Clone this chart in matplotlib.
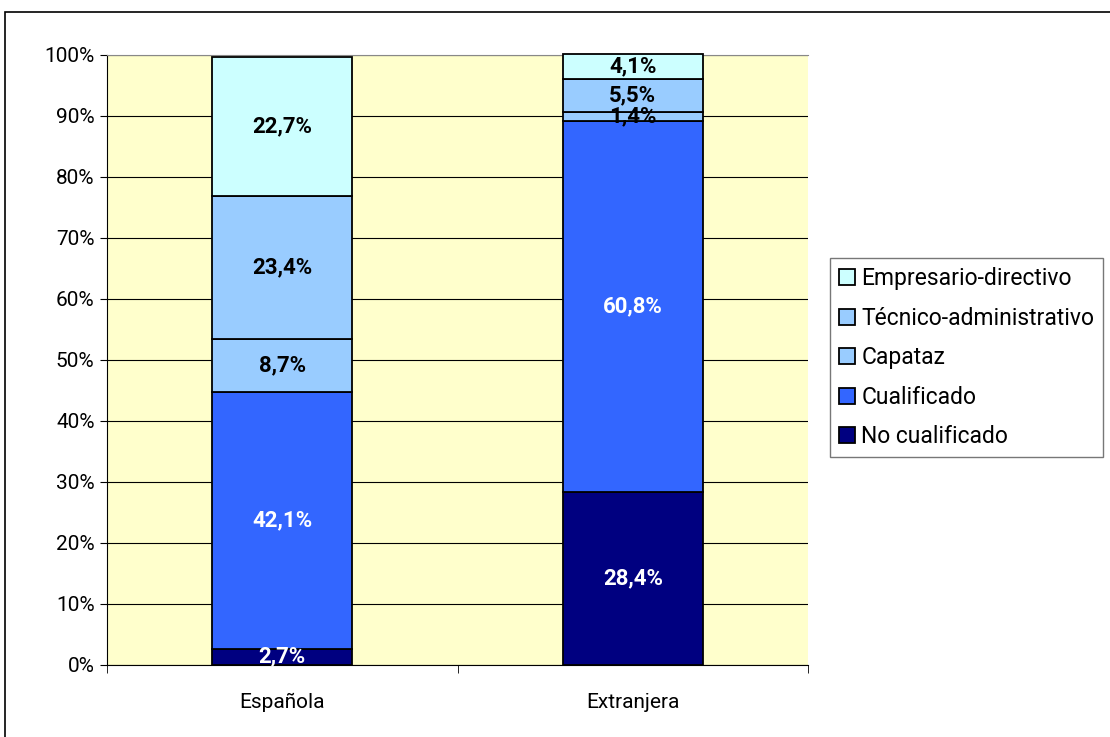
import numpy as np
import matplotlib.pyplot as plt
from matplotlib.patches import Rectangle

categories = ['Española', 'Extranjera']
series = ['No cualificado', 'Cualificado', 'Capataz',
          'Técnico-administrativo', 'Empresario-directivo']
values = {
    'No cualificado': [2.7, 28.4],
    'Cualificado': [42.1, 60.8],
    'Capataz': [8.7, 1.4],
    'Técnico-administrativo': [23.4, 5.5],
    'Empresario-directivo': [22.7, 4.1],
}
colors = ['#000080', '#3366FF', '#99CCFF', '#99CCFF', '#CCFFFF']
text_colors = ['white', 'white', 'black', 'black', 'black']

plt.rcParams['font.family'] = ['Roboto', 'DejaVu Sans']

fig = plt.figure(figsize=(11.1, 7.37), dpi=100)
ax = fig.add_axes([0.0964, 0.0977, 0.6316, 0.8277])
ax.set_facecolor('#FFFFCC')

x = np.arange(len(categories))
bottom = np.zeros(len(categories))
handles = []
for s, c, tc in zip(series, colors, text_colors):
    v = np.array(values[s])
    bars = ax.bar(x, v, 0.4, bottom=bottom, color=c, edgecolor='black',
                  linewidth=1.3, zorder=3, clip_on=False)
    handles.append(bars)
    for xi, vi, bi in zip(x, v, bottom):
        ax.text(xi, bi + vi / 2, f'{vi:.1f}%'.replace('.', ','), ha='center',
                va='center', color=tc, fontsize=16, fontweight='bold', zorder=4)
    bottom += v

ax.set_xlim(-0.5, 1.5)
ax.set_ylim(0, 100)
ax.set_yticks(np.arange(0, 101, 10))
ax.set_yticklabels([f'{t}%' for t in range(0, 101, 10)], fontsize=15)
ax.yaxis.grid(True, color='black', linewidth=0.8, zorder=0)
ax.set_xticks(x)
ax.set_xticklabels(categories, fontsize=15)
ax.set_xticks([-0.5, 0.5, 1.5], minor=True)
ax.tick_params(axis='x', which='major', length=0, pad=20)
ax.tick_params(axis='x', which='minor', length=6, color='black')
ax.tick_params(axis='y', length=5, pad=4)
ax.spines['top'].set_color('#888888')
ax.spines['right'].set_visible(False)

leg = ax.legend(handles[::-1], series[::-1], loc='upper left',
                bbox_to_anchor=(1.031, 0.667), fontsize=16.5, frameon=True,
                fancybox=False, edgecolor='#555555', handlelength=0.72,
                handleheight=0.72, handletextpad=0.25, labelspacing=0.72,
                borderpad=0.4, borderaxespad=0)
leg.get_frame().set_linewidth(1.0)

fig.patches.append(Rectangle((5 / 1110, -0.1), 1.2, 1.1 - 12 / 737,
                             transform=fig.transFigure, fill=False,
                             edgecolor='black', linewidth=1.2))

fig.savefig('out.png', dpi=100)
